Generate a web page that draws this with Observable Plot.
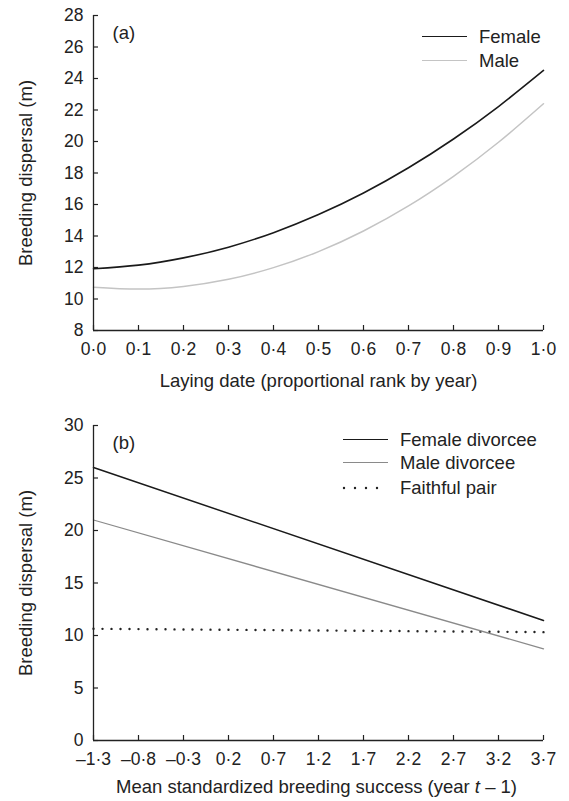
<!DOCTYPE html>
<html>
<head>
<meta charset="utf-8">
<script src="https://cdn.jsdelivr.net/npm/d3@7"></script>
<script src="https://cdn.jsdelivr.net/npm/@observablehq/plot@0.6"></script>
<style>
  html, body { margin: 0; padding: 0; background: #fff; }
  #wrap { position: relative; width: 569px; height: 801px; font-family: "Liberation Sans", Arial, sans-serif; color: #222; }
  #wrap svg { display: block; }
  .lg { position: absolute; font-size: 18.5px; line-height: 22px; white-space: nowrap; }
  .lgline { position: absolute; height: 0; }
</style>
</head>
<body>
<div id="wrap"></div>
<script>
// ---- Panel (a) data ----
const layingDate = [0, 0.1, 0.2, 0.3, 0.4, 0.5, 0.6, 0.7, 0.8, 0.9, 1.0];
const femaleA = [11.92, 12.15, 12.61, 13.29, 14.21, 15.36, 16.73, 18.33, 20.16, 22.22, 24.51];
const maleA = [10.75, 10.63, 10.80, 11.25, 11.99, 13.01, 14.32, 15.91, 17.79, 19.95, 22.40];
const xTicksA = [0, 0.1, 0.2, 0.3, 0.4, 0.5, 0.6, 0.7, 0.8, 0.9, 1.0];
const yTicksA = [8, 10, 12, 14, 16, 18, 20, 22, 24, 26, 28];
const legendA = ["Female", "Male"];

// ---- Panel (b) data ----
const successB = [-1.3, 3.7];
const femaleDivB = [26.0, 11.43];
const maleDivB = [21.0, 8.73];
const faithfulB = [10.64, 10.32];
const xTicksB = [-1.3, -0.8, -0.3, 0.2, 0.7, 1.2, 1.7, 2.2, 2.7, 3.2, 3.7];
const yTicksB = [0, 5, 10, 15, 20, 25, 30];
const legendB = ["Female divorcee", "Male divorcee", "Faithful pair"];

const fmt1 = d => d3.format(".1f")(d).replace(".", "·").replace("−", "–").replace("-", "–");
const ink = "#222";
const font = "'Liberation Sans', Arial, sans-serif";
const tickFs = 17.5;
const titleFs = 18.5;

function rows(xs, ys, series) { return xs.map((x, i) => ({x, y: ys[i], series})); }

function panel({xDomain, yDomain, xTicks, yTicks, xFmt, yFmt, lines, height, marginTop, marginBottom, xLabel, letter}) {
  return Plot.plot({
    width: 569, height, marginLeft: 93, marginRight: 26, marginTop, marginBottom,
    style: {fontFamily: font, fontSize: tickFs + "px", color: ink, background: "white", overflow: "visible"},
    x: {domain: xDomain},
    y: {domain: yDomain},
    marks: [
      ...lines,
      Plot.ruleX([xDomain[0]], {stroke: ink, strokeWidth: 1.3}),
      Plot.ruleY([yDomain[0]], {stroke: ink, strokeWidth: 1.3}),
      Plot.axisX({ticks: xTicks, tickFormat: xFmt, tickSize: -5, tickPadding: 17, stroke: ink, strokeWidth: 1.2, fill: ink, label: null, fontSize: tickFs}),
      Plot.axisY({ticks: yTicks, tickFormat: yFmt, tickSize: -5, tickPadding: 15, stroke: ink, strokeWidth: 1.2, fill: ink, label: null, fontSize: tickFs}),
      Plot.text([xLabel], {text: d => d, frameAnchor: "bottom", dy: 51, lineAnchor: "middle", textAnchor: "middle", fontSize: titleFs, fill: ink}),
      Plot.text(["Breeding dispersal (m)"], {text: d => d, frameAnchor: "left", rotate: -90, dx: -67, lineAnchor: "middle", textAnchor: "middle", fontSize: titleFs, fill: ink}),
      Plot.text([letter], {text: d => d, frameAnchor: "top-left", dx: 19, dy: 18, lineAnchor: "middle", fontSize: titleFs, fill: ink, textAnchor: "start"})
    ]
  });
}

const wrap = document.getElementById("wrap");

const dataA = [...rows(layingDate, femaleA, "Female"), ...rows(layingDate, maleA, "Male")];
const plotA = panel({
  xDomain: [0, 1], yDomain: [8, 28], xTicks: xTicksA, yTicks: yTicksA,
  xFmt: fmt1, yFmt: d => String(d),
  height: 400, marginTop: 15, marginBottom: 70,
  xLabel: "Laying date (proportional rank by year)", letter: "(a)",
  lines: [
    Plot.line(dataA.filter(d => d.series === "Male"), {x: "x", y: "y", stroke: "#c4c4c4", strokeWidth: 1.5, curve: "natural"}),
    Plot.line(dataA.filter(d => d.series === "Female"), {x: "x", y: "y", stroke: "#1a1a1a", strokeWidth: 1.6, curve: "natural"})
  ]
});
wrap.appendChild(plotA);

const dataB = [...rows(successB, femaleDivB, "Female divorcee"), ...rows(successB, maleDivB, "Male divorcee"), ...rows(successB, faithfulB, "Faithful pair")];
const plotB = panel({
  xDomain: [-1.3, 3.7], yDomain: [0, 30], xTicks: xTicksB, yTicks: yTicksB,
  xFmt: fmt1, yFmt: d => String(d),
  height: 401, marginTop: 25, marginBottom: 61,
  xLabel: "", letter: "(b)",
  lines: [
    Plot.line(dataB.filter(d => d.series === "Faithful pair"), {x: "x", y: "y", stroke: "#222", strokeWidth: 2.4, strokeDasharray: "0,9", strokeLinecap: "round"}),
    Plot.line(dataB.filter(d => d.series === "Male divorcee"), {x: "x", y: "y", stroke: "#8a8a8a", strokeWidth: 1.3}),
    Plot.line(dataB.filter(d => d.series === "Female divorcee"), {x: "x", y: "y", stroke: "#1a1a1a", strokeWidth: 1.5})
  ]
});
wrap.appendChild(plotB);

// x label for (b) with italic t
const xlabB = document.createElement("div");
xlabB.className = "lg";
xlabB.style.left = "0px"; xlabB.style.width = "633px"; xlabB.style.textAlign = "center";
xlabB.style.top = "776px";
xlabB.innerHTML = "Mean standardized breeding success (year <i>t</i> – 1)";
wrap.appendChild(xlabB);

// legends
function legendRow(text, y, x0, x1, tx, style) {
  const ln = document.createElement("div");
  ln.className = "lgline";
  ln.style.left = x0 + "px"; ln.style.width = (x1 - x0) + "px"; ln.style.top = (y - 1) + "px";
  ln.style.borderTop = style;
  wrap.appendChild(ln);
  const t = document.createElement("div");
  t.className = "lg";
  t.style.left = tx + "px"; t.style.top = (y - 11) + "px";
  t.textContent = text;
  wrap.appendChild(t);
}
legendRow(legendA[0], 37, 422, 467, 479, "1.6px solid #1a1a1a");
legendRow(legendA[1], 61, 422, 467, 479, "1.5px solid #c4c4c4");

legendRow(legendB[0], 440, 343, 388, 400, "1.5px solid #1a1a1a");
legendRow(legendB[1], 463, 343, 388, 400, "1.3px solid #8a8a8a");
(function () {
  const s = d3.select(wrap).append("svg")
    .attr("width", 50).attr("height", 6)
    .style("position", "absolute").style("left", "341px").style("top", "485px");
  s.append("line").attr("x1", 3).attr("x2", 47).attr("y1", 3).attr("y2", 3)
    .attr("stroke", "#222").attr("stroke-width", 2.4).attr("stroke-linecap", "round")
    .attr("stroke-dasharray", "0,11");
  const t = document.createElement("div");
  t.className = "lg";
  t.style.left = "400px"; t.style.top = (488 - 11) + "px";
  t.textContent = legendB[2];
  wrap.appendChild(t);
})();
</script>
</body>
</html>
